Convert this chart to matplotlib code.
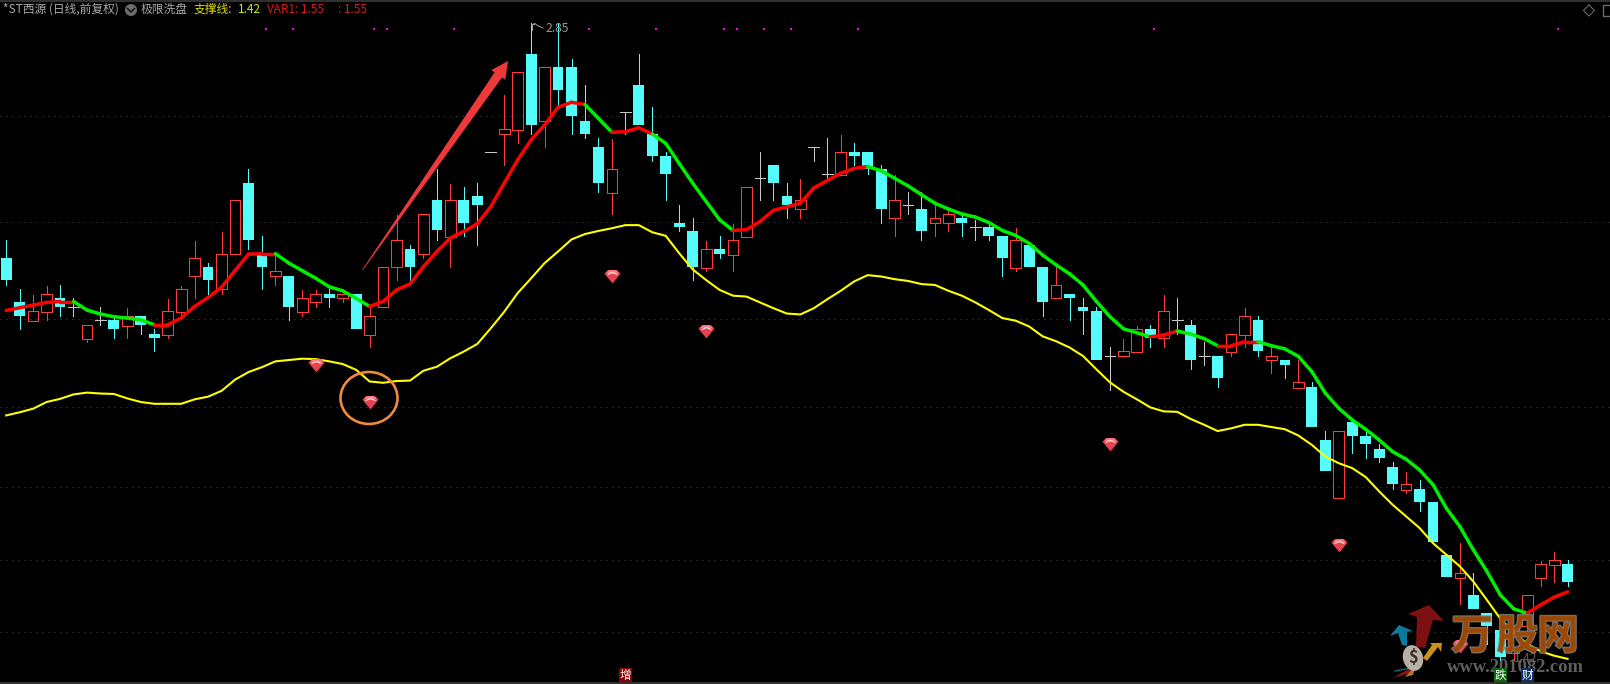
import matplotlib
matplotlib.use("Agg")
import matplotlib.pyplot as plt
import matplotlib.patheffects as pe
import numpy as np
from matplotlib.patches import Ellipse, Polygon, Rectangle
from matplotlib.path import Path

plt.rcParams["font.family"] = ["Noto Sans CJK SC", "DejaVu Sans"]

# =========================
# Daily bars
# =========================
highs = [
    2.364, 2.254, 2.241, 2.261, 2.263, 2.233, 2.173, 2.214, 2.194, 2.212,
    2.194, 2.165, 2.232, 2.261, 2.362, 2.312, 2.382, 2.453, 2.523, 2.373,
    2.333, 2.283, 2.252, 2.252, 2.253, 2.243, 2.243, 2.214, 2.303, 2.420,
    2.353, 2.421, 2.522, 2.489, 2.482, 2.491, 2.560, 2.688, 2.739, 2.850,
    2.750, 2.849, 2.770, 2.711, 2.592, 2.590, 2.650, 2.780, 2.662, 2.560,
    2.442, 2.413, 2.362, 2.373, 2.400, 2.482, 2.560, 2.532, 2.491, 2.500,
    2.572, 2.592, 2.599, 2.581, 2.561, 2.532, 2.509, 2.471, 2.471, 2.442,
    2.431, 2.421, 2.409, 2.402, 2.373, 2.391, 2.353, 2.303, 2.303, 2.243,
    2.234, 2.214, 2.124, 2.142, 2.171, 2.174, 2.241, 2.234, 2.185, 2.136,
    2.104, 2.154, 2.212, 2.194, 2.124, 2.095, 2.094, 2.046, 1.936, 1.935,
    1.956, 1.936, 1.907, 1.867, 1.845, 1.827, 1.778, 1.659, 1.685, 1.619,
    1.528, 1.491, 1.500, 1.569, 1.645, 1.665, 1.648,
]
opens = [
    2.324, 2.225, 2.183, 2.203, 2.234, 2.214, 2.143, 2.185, 2.185, 2.172,
    2.194, 2.154, 2.152, 2.203, 2.282, 2.303, 2.253, 2.332, 2.491, 2.333,
    2.282, 2.283, 2.203, 2.224, 2.243, 2.233, 2.243, 2.152, 2.213, 2.303,
    2.344, 2.332, 2.453, 2.371, 2.453, 2.462, 2.560, 2.600, 2.611, 2.780,
    2.629, 2.751, 2.751, 2.630, 2.572, 2.470, 2.650, 2.711, 2.601, 2.552,
    2.402, 2.384, 2.302, 2.344, 2.331, 2.371, 2.502, 2.532, 2.462, 2.433,
    2.572, 2.511, 2.509, 2.560, 2.561, 2.522, 2.412, 2.442, 2.433, 2.401,
    2.401, 2.413, 2.393, 2.393, 2.373, 2.302, 2.353, 2.303, 2.233, 2.243,
    2.214, 2.205, 2.104, 2.103, 2.114, 2.165, 2.144, 2.185, 2.174, 2.104,
    2.104, 2.114, 2.152, 2.185, 2.094, 2.095, 2.033, 2.035, 1.916, 1.785,
    1.956, 1.925, 1.896, 1.856, 1.805, 1.807, 1.778, 1.659, 1.608, 1.569,
    1.528, 1.491, 1.439, 1.500, 1.608, 1.637, 1.639,
]
closes = [
    2.274, 2.194, 2.204, 2.242, 2.214, 2.214, 2.173, 2.185, 2.165, 2.193,
    2.174, 2.145, 2.204, 2.253, 2.323, 2.274, 2.332, 2.453, 2.364, 2.303,
    2.294, 2.214, 2.233, 2.242, 2.234, 2.242, 2.165, 2.193, 2.303, 2.363,
    2.303, 2.421, 2.385, 2.453, 2.402, 2.442, 2.560, 2.612, 2.739, 2.621,
    2.750, 2.700, 2.641, 2.601, 2.491, 2.522, 2.650, 2.621, 2.552, 2.512,
    2.393, 2.303, 2.343, 2.333, 2.363, 2.482, 2.502, 2.491, 2.442, 2.453,
    2.572, 2.511, 2.560, 2.552, 2.522, 2.433, 2.453, 2.442, 2.384, 2.412,
    2.421, 2.402, 2.393, 2.373, 2.324, 2.363, 2.303, 2.225, 2.262, 2.234,
    2.205, 2.095, 2.104, 2.115, 2.164, 2.145, 2.204, 2.185, 2.095, 2.104,
    2.055, 2.153, 2.193, 2.115, 2.104, 2.084, 2.045, 1.945, 1.847, 1.935,
    1.925, 1.907, 1.876, 1.818, 1.817, 1.778, 1.688, 1.610, 1.619, 1.538,
    1.500, 1.431, 1.500, 1.569, 1.639, 1.647, 1.599,
]
lows = [
    2.263, 2.165, 2.183, 2.185, 2.194, 2.194, 2.136, 2.174, 2.145, 2.145,
    2.154, 2.115, 2.145, 2.194, 2.233, 2.243, 2.243, 2.332, 2.344, 2.254,
    2.263, 2.185, 2.194, 2.214, 2.214, 2.226, 2.165, 2.124, 2.213, 2.274,
    2.274, 2.324, 2.364, 2.303, 2.373, 2.353, 2.560, 2.532, 2.581, 2.601,
    2.572, 2.661, 2.601, 2.592, 2.471, 2.423, 2.601, 2.621, 2.541, 2.453,
    2.384, 2.274, 2.295, 2.324, 2.295, 2.371, 2.453, 2.453, 2.413, 2.413,
    2.541, 2.502, 2.509, 2.531, 2.512, 2.402, 2.373, 2.422, 2.364, 2.373,
    2.384, 2.373, 2.364, 2.364, 2.283, 2.295, 2.303, 2.194, 2.233, 2.185,
    2.154, 2.095, 2.027, 2.103, 2.114, 2.124, 2.124, 2.154, 2.075, 2.084,
    2.035, 2.104, 2.124, 2.104, 2.066, 2.055, 2.033, 1.945, 1.847, 1.785,
    1.887, 1.876, 1.867, 1.807, 1.798, 1.757, 1.688, 1.610, 1.549, 1.538,
    1.460, 1.424, 1.424, 1.484, 1.590, 1.599, 1.590,
]

# thick trend line, green where it is falling
var1_line = [
    2.206, 2.212, 2.218, 2.224, 2.226, 2.226, 2.207, 2.198, 2.192, 2.189,
    2.185, 2.174, 2.174, 2.189, 2.215, 2.235, 2.258, 2.295, 2.332, 2.333,
    2.333, 2.312, 2.295, 2.278, 2.259, 2.250, 2.233, 2.215, 2.226, 2.252,
    2.265, 2.304, 2.338, 2.368, 2.383, 2.400, 2.438, 2.491, 2.543, 2.588,
    2.621, 2.661, 2.672, 2.667, 2.636, 2.605, 2.606, 2.615, 2.601, 2.580,
    2.535, 2.491, 2.450, 2.409, 2.385, 2.387, 2.405, 2.430, 2.438, 2.446,
    2.480, 2.497, 2.513, 2.524, 2.528, 2.519, 2.502, 2.485, 2.465, 2.446,
    2.433, 2.422, 2.415, 2.403, 2.385, 2.374, 2.356, 2.330, 2.308, 2.288,
    2.263, 2.226, 2.192, 2.165, 2.156, 2.147, 2.151, 2.160, 2.153, 2.143,
    2.127, 2.127, 2.136, 2.136, 2.127, 2.120, 2.103, 2.069, 2.021, 1.987,
    1.961, 1.940, 1.916, 1.890, 1.873, 1.849, 1.816, 1.763, 1.722, 1.670,
    1.622, 1.569, 1.538, 1.528, 1.547, 1.564, 1.576,
]
falling_spans = [(5, 11), (20, 27), (43, 45), (48, 54), (64, 85), (87, 90), (93, 113)]

support_line = [
    1.971, 1.978, 1.986, 2.001, 2.008, 2.018, 2.022, 2.020, 2.019, 2.009,
    2.001, 1.997, 1.997, 1.997, 2.007, 2.013, 2.026, 2.051, 2.068, 2.079,
    2.092, 2.095, 2.098, 2.097, 2.092, 2.086, 2.073, 2.047, 2.044, 2.048,
    2.049, 2.071, 2.080, 2.099, 2.114, 2.131, 2.166, 2.203, 2.245, 2.278,
    2.312, 2.338, 2.365, 2.377, 2.384, 2.390, 2.397, 2.397, 2.381, 2.373,
    2.334, 2.298, 2.274, 2.252, 2.239, 2.237, 2.224, 2.211, 2.199, 2.197,
    2.211, 2.231, 2.250, 2.271, 2.285, 2.282, 2.276, 2.272, 2.265, 2.263,
    2.250, 2.239, 2.224, 2.207, 2.189, 2.183, 2.170, 2.148, 2.137, 2.123,
    2.104, 2.074, 2.045, 2.024, 2.007, 1.989, 1.980, 1.979, 1.963, 1.950,
    1.936, 1.942, 1.950, 1.950, 1.945, 1.940, 1.926, 1.905, 1.879, 1.864,
    1.853, 1.833, 1.801, 1.771, 1.745, 1.719, 1.685, 1.659, 1.633, 1.599,
    1.558, 1.516, 1.484, 1.460, 1.443, 1.433, 1.426,
]

gem_bars = [23, 27, 45, 52, 82, 99, 108]
gem_prices = [2.084, 2.000, 2.283, 2.161, 1.906, 1.680, 1.454]
flag_bars = [19, 21, 27, 28, 33, 43, 48, 53, 54, 56, 58, 63, 85, 115]
grid_prices = [2.641, 2.404, 2.187, 1.990, 1.810, 1.647, 1.486]

# ── colours ──────────────────────────────────────────────
RED = "#ff3a3a"
CYAN = "#54fcfc"
DOJI = "#c8c8c8"

fig = plt.figure(figsize=(16.1, 6.84), dpi=100, facecolor="black")
ax = fig.add_axes([0, 0, 1, 1], facecolor="black")
ax.set_xlim(-0.46, 119.15)
ax.set_ylim(1.3697, 2.901)
ax.axis("off")

for level in grid_prices:
    ax.axhline(level, color="#4a4a4a", lw=0.72, dashes=(1, 5), zorder=1)

# ── candles ──────────────────────────────────────────────
bars = np.arange(len(closes))
for i, h, o, c, l in zip(bars, highs, opens, closes, lows):
    top, bottom = max(o, c), min(o, c)
    if c == o:
        ax.vlines(i, l, h, color=DOJI, lw=0.72, antialiased=False, zorder=2)
        ax.hlines(c, i - 0.4, i + 0.4, color=DOJI, lw=0.72, antialiased=False, zorder=2)
        continue
    colour = RED if c > o else CYAN
    ax.vlines(i, top, h, color=colour, lw=0.72, antialiased=False, zorder=2)
    ax.vlines(i, l, bottom, color=colour, lw=0.72, antialiased=False, zorder=2)
    if c > o:
        ax.bar(i, top - bottom, 0.8, bottom, facecolor="none", edgecolor=RED, lw=0.72,
               antialiased=False, zorder=2)
    else:
        ax.bar(i, top - bottom, 0.8, bottom, color=CYAN, lw=0, antialiased=False, zorder=2)

# ── indicator lines ──────────────────────────────────────
ax.plot(bars, support_line, color="#ffff00", lw=1.5, zorder=3)

for i in bars[:-1]:
    falling = any(a <= i < b for a, b in falling_spans)
    ax.plot(bars[i:i + 2], var1_line[i:i + 2], color="#00ee00" if falling else "#ff0000",
            lw=2.5, solid_capstyle="round", zorder=4)

# small magenta flags along the top
ax.scatter(np.array(flag_bars) + 0.3, [2.836] * len(flag_bars), marker="s", s=3.5,
           color="#ff00ff", lw=0, zorder=4)

# ── gem markers ──────────────────────────────────────────
gem_body = Path([(-1, 0.35), (-0.55, 0.8), (0.55, 0.8), (1, 0.35), (0, -0.85), (-1, 0.35)], closed=True)
gem_face = Path([(-0.62, 0.38), (-0.3, 0.62), (0.3, 0.62), (0.62, 0.38), (0.25, 0.3), (-0.25, 0.3), (-0.62, 0.38)], closed=True)
gem_arc = Path([(-0.5, 0.2), (0, 0.42), (0.5, 0.2), (0.38, 0.14), (0, 0.3), (-0.38, 0.14), (-0.5, 0.2)], closed=True)
ax.scatter(gem_bars, gem_prices, marker=gem_body, s=135, color="#e8424e", lw=0, zorder=5)
ax.scatter(gem_bars, gem_prices, marker=gem_face, s=85, color="#ff7c84", lw=0, zorder=5)
ax.scatter(gem_bars, gem_prices, marker=gem_arc, s=65, color="#ffe0e0", lw=0, zorder=5)

# =========================
# Overlay in screen pixels: header, hand-drawn marks, logo
# =========================
ui = fig.add_axes([0, 0, 1, 1], facecolor="none")
ui.set_xlim(0, 1610)
ui.set_ylim(684, 0)
ui.axis("off")


def header(x, text, colour):
    ui.text(x, 9.5, text, color=colour, fontsize=8.5, va="center", ha="left")


header(3, "*ST西源 (日线,前复权)", "#a8a8a8")
ui.add_patch(Ellipse((131, 10), 12, 12, color="#6e6e6e", lw=0))
ui.plot([127.5, 131, 134.5], [8.5, 12, 8.5], color="#111111", lw=1.1)
header(141, "极限洗盘", "#a8a8a8")
header(194, "支撑线:", "#dcdc00")
header(238, "1.42", "#c8f000")
header(267, "VAR1: 1.55", "#d81818")
header(338, ": 1.55", "#d81818")

# chrome at the edges
ui.plot([0, 1610], [0.8, 0.8], color="#3c3c3c", lw=1.2)
ui.plot([0, 1610], [682.5, 682.5], color="#3c3c3c", lw=1.2)
ui.plot([1589, 1594.5, 1589, 1583.5, 1589], [5, 10.5, 16, 10.5, 5], color="#6a6a6a", lw=0.8)
ui.add_patch(Rectangle((1603, 5), 9, 11, fill=False, edgecolor="#6a6a6a", lw=1.0))

# price labels
ui.plot([531.5, 535, 538, 543], [25, 23.5, 26, 28], color="#a0a0a0", lw=0.7)
ui.plot([531.5, 531.5, 534], [30, 23.5, 23.5], color="#a0a0a0", lw=0.7)
ui.text(545, 29, "2.85", color="#9a9a9a", fontsize=8.7, va="center", ha="left")
ui.text(1526, 658, "1.42", color="#8a8a8a", fontsize=8.7, va="center", ha="center", alpha=0.7, zorder=3)

# orange ring
ui.add_patch(Ellipse((369, 398), 57, 52, fill=False, edgecolor="#f08a3c", lw=1.9))

# long red arrow, tapering from the tail up to the head
tail = np.array([362.5, 270.0])
tip = np.array([508.0, 61.0])
along = (tip - tail) / np.hypot(*(tip - tail))
normal = np.array([-along[1], along[0]])
neck = tip - along * 17
arrow_pts = [
    tail + normal * 0.4, neck + normal * 4.5, neck + normal * 8.5, tip,
    neck - normal * 8.5, neck - normal * 4.5, tail - normal * 0.4,
]
ui.add_patch(Polygon(arrow_pts, closed=True, color="#fc3c3e", lw=0, alpha=0.95))


# small label tags along the bottom edge
def tag(x, text, colour):
    ui.add_patch(Rectangle((x - 6.5, 668), 13, 14, color=colour, lw=0, zorder=6))
    ui.text(x, 675, text, color="white", fontsize=8.4, va="center", ha="center", zorder=7)


tag(625, "增", "#8b0000")
tag(1500.5, "跌", "#0a6a0a")
tag(1527.5, "财", "#0c2f66")

# ── watermark logo ───────────────────────────────────────
ui.add_patch(Polygon([(1408, 614), (1429, 605), (1444, 621), (1433, 620), (1425, 648), (1416, 647), (1417, 617)],
                     color="#7d1010", lw=0, zorder=5))
ui.add_patch(Polygon([(1390, 636), (1399, 625), (1413, 631), (1407, 632), (1407, 646), (1402, 645), (1398, 633)],
                     color="#0d7a99", lw=0, zorder=5))
ui.add_patch(Polygon([(1423, 658), (1432, 645), (1430, 643), (1442, 643), (1441, 652), (1438, 647), (1427, 661)],
                     color="#c8921a", lw=0, zorder=5))
ui.add_patch(Polygon([(1393, 678), (1415, 665), (1411, 673)], color="#8a1414", lw=0, zorder=5))
ui.add_patch(Polygon([(1405, 677), (1416, 665), (1413, 675)], color="#b07a18", lw=0, zorder=5))
ui.plot([1395, 1411], [671, 668], color="#0d7a99", lw=0.9, zorder=5)
ui.add_patch(Ellipse((1413, 658), 20, 26, angle=-15, color="#b8b0a6", lw=0, zorder=5))
ui.text(1413, 658, "$", color="#3a3028", fontsize=12, fontweight="bold", va="center", ha="center", zorder=6)

stroke = [pe.withStroke(linewidth=1.6, foreground="#808080")]
for x, ch in zip([1472, 1517.5, 1558], "万股网"):
    ui.text(x, 637, ch, color="#a04800", fontsize=30, fontweight="bold", va="center", ha="center",
            alpha=0.88, zorder=5, path_effects=stroke)
ui.text(1515, 668, "www.201082.com", color="#5e5e5e", fontsize=13.3, fontweight="bold",
        family=["Liberation Serif", "DejaVu Serif"], va="center", ha="center", zorder=5)

fig.savefig("out.png", dpi=100, facecolor="black")
